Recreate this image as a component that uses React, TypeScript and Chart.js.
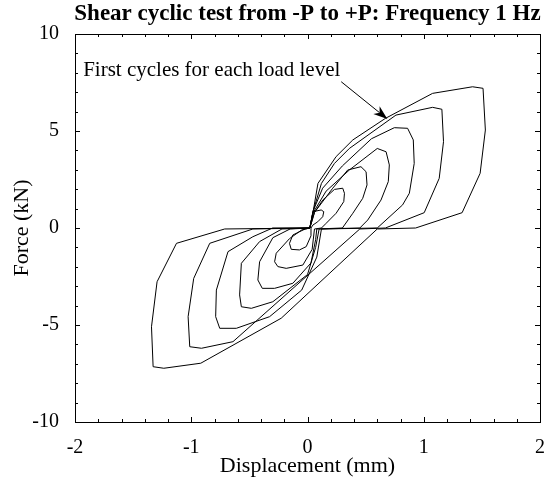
import React, { useEffect, useRef } from "react";
import { Chart, registerables } from "chart.js";

Chart.register(...registerables);

const TITLE = "Shear cyclic test from -P to +P: Frequency 1 Hz";
const X_LABEL = "Displacement (mm)";
const Y_LABEL = "Force (kN)";
const NOTE = "First cycles for each load level";

const X_MIN = -2;
const X_MAX = 2;
const Y_MIN = -10;
const Y_MAX = 10;
const xMinorTicks = [-1.8, -1.6, -1.4, -1.2, -0.8, -0.6, -0.4, -0.2, 0.2, 0.4, 0.6, 0.8, 1.2, 1.4, 1.6, 1.8];
const xMajorTicks = [-2, -1, 0, 1, 2];
const yMinorTicks = [-9, -8, -7, -6, -4, -3, -2, -1, 1, 2, 3, 4, 6, 7, 8, 9];
const yMajorTicks = [-10, -5, 0, 5, 10];

// hysteresis loops, one per load level (displacement mm, force kN)
const loop0X = [0.03, 0.046, 0.088, 0.131, 0.14, 0.118, 0.046, 0.02, -0.02, -0.126, -0.155, -0.14, -0.069, -0.011, 0.03, 0.03];
const loop0Y = [0, 0.15, 0.32, 0.58, 0.84, 0.93, 0.84, 0, -0.05, -0.36, -0.79, -1.1, -1.13, -0.96, -0.4, 0];

const loop1X = [0.06, 0.12, 0.16, 0.246, 0.312, 0.318, 0.303, 0.232, 0.131, 0.06, 0.02, -0.05, -0.155, -0.269, -0.283, -0.255, -0.183, -0.04, 0.04, 0.06];
const loop1Y = [-0.05, 0, 0.24, 0.76, 1.36, 1.79, 2.05, 1.99, 1.44, 0.8, 0, -0.1, -0.55, -1.3, -1.74, -1.99, -2.08, -1.91, -1.1, -0.05];

const loop2X = [0.08, 0.3, 0.39, 0.475, 0.512, 0.504, 0.46, 0.346, 0.217, 0.06, 0.02, -0.15, -0.298, -0.412, -0.427, -0.389, -0.283, -0.126, 0.03, 0.07, 0.08];
const loop2Y = [-0.05, 0, 0.76, 1.53, 2.22, 2.9, 3.16, 2.99, 2.05, 0.8, 0, -0.05, -0.5, -1.74, -2.68, -3.11, -3.11, -2.85, -1.8, -0.6, -0.05];

const loop3X = [0.1, 0.45, 0.518, 0.632, 0.695, 0.704, 0.676, 0.6, 0.36, 0.16, 0.05, 0.02, -0.22, -0.412, -0.569, -0.584, -0.569, -0.483, -0.298, 0.0, 0.07, 0.1];
const loop3Y = [-0.05, 0, 0.41, 1.44, 2.39, 3.25, 3.93, 4.1, 2.99, 1.9, 0.8, 0, -0.05, -0.7, -1.82, -3.45, -4.06, -4.14, -3.8, -2.4, -1.0, -0.05];

const loop4X = [0.12, 0.6, 0.818, 0.876, 0.918, 0.91, 0.861, 0.747, 0.55, 0.3, 0.13, 0.05, 0.02, -0.3, -0.47, -0.684, -0.784, -0.79, -0.755, -0.612, -0.326, -0.05, 0.08, 0.12];
const loop4Y = [-0.05, 0, 1.19, 1.79, 3.33, 4.54, 5.14, 5.17, 4.6, 3.2, 2.05, 0.9, 0, 0, -0.45, -1.22, -3.2, -4.57, -5.17, -5.17, -4.57, -3.2, -1.5, -0.05];

const loop5X = [0.45, 0.67, 1.004, 1.133, 1.17, 1.156, 1.076, 0.761, 0.36, 0.232, 0.12, 0.05, 0.02, -0.47, -0.841, -0.979, -1.027, -1.013, -0.912, -0.641, 0.45];
const loop5Y = [-0.05, 0, 0.79, 2.56, 4.45, 6.12, 6.22, 5.82, 4.1, 3.33, 2.3, 0.9, 0, -0.05, -0.79, -2.6, -4.57, -6.12, -6.2, -5.86, -0.05];

const loop6X = [0.6, 0.93, 1.33, 1.485, 1.53, 1.51, 1.42, 1.076, 0.67, 0.39, 0.246, 0.09, 0.05, 0.02, -0.712, -1.127, -1.294, -1.342, -1.328, -1.236, -0.918, -0.226, 0.6];
const loop6Y = [-0.05, 0, 0.79, 2.82, 5.05, 7.2, 7.28, 6.94, 5.65, 4.54, 3.68, 2.3, 0.9, 0, -0.05, -0.79, -2.77, -5.09, -7.15, -7.23, -6.97, -4.65, -0.05];

// annotation: text anchor and arrow (data coordinates)
const noteAt = [-1.93, 7.83];
const arrowX = [0.29, 0.687];
const arrowY = [7.54, 5.62];

const FONT = "'Liberation Serif', 'Times New Roman', serif";

const loops: [number[], number[]][] = [
  [loop0X, loop0Y],
  [loop1X, loop1Y],
  [loop2X, loop2Y],
  [loop3X, loop3Y],
  [loop4X, loop4Y],
  [loop5X, loop5Y],
  [loop6X, loop6Y],
];

function toPoints(xs: number[], ys: number[]) {
  return xs.map((x, i) => ({ x, y: ys[i] }));
}

export default function App() {
  const ref = useRef<HTMLCanvasElement>(null);

  useEffect(() => {
    const canvas = ref.current;
    if (!canvas) return;

    const decorations = {
      id: "decorations",
      afterDraw(chart: any) {
        const ctx = chart.ctx;
        const xs = chart.scales.x;
        const ys = chart.scales.y;
        const a = chart.chartArea;
        ctx.save();
        ctx.strokeStyle = "#000";
        ctx.lineWidth = 1;
        // box
        ctx.strokeRect(Math.round(a.left) + 0.5, Math.round(a.top) + 0.5, Math.round(a.right - a.left), Math.round(a.bottom - a.top));
        // ticks inward on all four sides
        const drawXTick = (v: number, len: number) => {
          const px = Math.round(xs.getPixelForValue(v)) + 0.5;
          ctx.beginPath();
          ctx.moveTo(px, a.bottom);
          ctx.lineTo(px, a.bottom - len);
          ctx.moveTo(px, a.top);
          ctx.lineTo(px, a.top + len);
          ctx.stroke();
        };
        const drawYTick = (v: number, len: number) => {
          const py = Math.round(ys.getPixelForValue(v)) + 0.5;
          ctx.beginPath();
          ctx.moveTo(a.left, py);
          ctx.lineTo(a.left + len, py);
          ctx.moveTo(a.right, py);
          ctx.lineTo(a.right - len, py);
          ctx.stroke();
        };
        xMajorTicks.forEach((v) => drawXTick(v, 5));
        xMinorTicks.forEach((v) => drawXTick(v, 3));
        yMajorTicks.forEach((v) => drawYTick(v, 5));
        yMinorTicks.forEach((v) => drawYTick(v, 3));

        ctx.fillStyle = "#000";
        // title
        ctx.font = `bold 23px ${FONT}`;
        ctx.textAlign = "center";
        ctx.textBaseline = "alphabetic";
        ctx.fillText(TITLE, (a.left + a.right) / 2, 20);
        // x label
        ctx.font = `22px ${FONT}`;
        ctx.fillText(X_LABEL, (a.left + a.right) / 2, 472);
        // y label
        ctx.save();
        ctx.translate(22, (a.top + a.bottom) / 2);
        ctx.rotate(-Math.PI / 2);
        ctx.textBaseline = "middle";
        ctx.fillText(Y_LABEL, 0, 0);
        ctx.restore();
        // note
        ctx.font = `21px ${FONT}`;
        ctx.textAlign = "left";
        ctx.fillText(NOTE, xs.getPixelForValue(noteAt[0]), ys.getPixelForValue(noteAt[1]));
        // arrow
        const x1 = xs.getPixelForValue(arrowX[0]);
        const y1 = ys.getPixelForValue(arrowY[0]);
        const x2 = xs.getPixelForValue(arrowX[1]);
        const y2 = ys.getPixelForValue(arrowY[1]);
        const ang = Math.atan2(y2 - y1, x2 - x1);
        const headLen = 14;
        const headW = 5;
        const bx = x2 - headLen * Math.cos(ang);
        const by = y2 - headLen * Math.sin(ang);
        ctx.beginPath();
        ctx.moveTo(x1, y1);
        ctx.lineTo(bx + 4 * Math.cos(ang), by + 4 * Math.sin(ang));
        ctx.stroke();
        ctx.beginPath();
        ctx.moveTo(x2, y2);
        ctx.lineTo(bx - headW * Math.sin(ang), by + headW * Math.cos(ang));
        ctx.lineTo(bx + 4 * Math.cos(ang), by + 4 * Math.sin(ang));
        ctx.lineTo(bx + headW * Math.sin(ang), by - headW * Math.cos(ang));
        ctx.closePath();
        ctx.fill();
        ctx.restore();
      },
    };

    const chart = new Chart(canvas, {
      type: "scatter",
      data: {
        datasets: loops.map(([lx, ly]) => ({
          data: toPoints(lx, ly),
          showLine: true,
          borderColor: "#000",
          borderWidth: 1,
          pointRadius: 0,
          pointHoverRadius: 0,
          fill: false,
          tension: 0,
        })),
      },
      options: {
        responsive: false,
        animation: false,
        devicePixelRatio: 1,
        layout: { padding: { left: 0, right: 12, top: 34, bottom: 0 } },
        plugins: {
          legend: { display: false },
          tooltip: { enabled: false },
          title: { display: false },
        },
        scales: {
          x: {
            type: "linear",
            min: X_MIN,
            max: X_MAX,
            position: "bottom",
            grid: { display: false },
            border: { display: false },
            ticks: {
              stepSize: 1,
              autoSkip: false,
              maxRotation: 0,
              padding: 6,
              color: "#000",
              font: { family: FONT, size: 20 },
            },
            afterFit: (s: any) => {
              s.height = 61;
            },
          },
          y: {
            type: "linear",
            min: Y_MIN,
            max: Y_MAX,
            position: "left",
            grid: { display: false },
            border: { display: false },
            ticks: {
              stepSize: 5,
              autoSkip: false,
              padding: 8,
              color: "#000",
              font: { family: FONT, size: 20 },
            },
            afterFit: (s: any) => {
              s.width = 75;
            },
          },
        },
      },
      plugins: [decorations],
    } as any);

    return () => chart.destroy();
  }, []);

  return (
    <div style={{ position: "absolute", left: 0, top: 0, width: 552, height: 483, background: "#fff" }}>
      <canvas ref={ref} width={552} height={483} style={{ display: "block" }} />
    </div>
  );
}
